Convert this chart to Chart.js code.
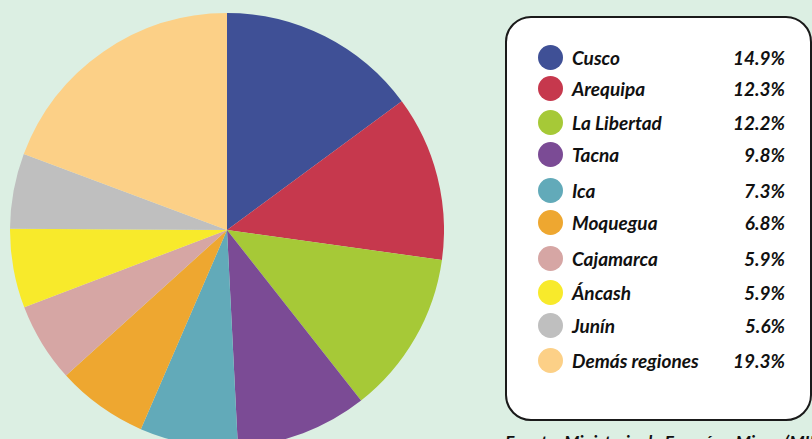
<!DOCTYPE html>
<html>
<head>
<meta charset="utf-8">
<script src="https://cdn.jsdelivr.net/npm/chart.js@4/dist/chart.umd.min.js"></script>
<style>
  html, body { margin:0; padding:0; }
  body { width:812px; height:439px; background:#dcefe3; position:relative; overflow:hidden; font-family: Lato, "Open Sans", sans-serif; }
  #pieWrap { position:absolute; left:10px; top:13px; width:434px; height:434px; }
  #legendBox { position:absolute; left:505px; top:16px; width:307px; height:405px; box-sizing:border-box;
    border:2.5px solid #1a1a1a; border-radius:26px; background:#ffffff; }
  .row { position:absolute; left:0; width:100%; height:25px; }
  .dot { position:absolute; left:31px; top:0; width:25px; height:25px; border-radius:50%; }
  .lab { position:absolute; left:65px; top:0; line-height:25px; font-size:19px; font-weight:700; font-style:italic; color:#111; white-space:nowrap; }
  .val { position:absolute; right:25px; top:0; line-height:25px; font-size:19px; font-weight:700; font-style:italic; color:#111; white-space:nowrap; text-align:right; }
  #source { position:absolute; left:505px; top:433px; line-height:18px; font-size:17.5px; font-weight:700; font-style:italic; color:#111; white-space:nowrap; }
</style>
</head>
<body>
<div id="pieWrap"><canvas id="c"></canvas></div>
<div id="legendBox"></div>
<div id="source">Fuente: Ministerio de Energía y Minas (MINEM)</div>
<script>
const regions = ["Cusco","Arequipa","La Libertad","Tacna","Ica","Moquegua","Cajamarca","Áncash","Junín","Demás regiones"];
const shares = [14.9, 12.3, 12.2, 9.8, 7.3, 6.8, 5.9, 5.9, 5.6, 19.3];
const colors = ["#3f5096","#c6384d","#a6c937","#7b4b95","#62aab9","#eea730","#d6a6a4","#f8ea2b","#bfbfbf","#fcd087"];
const rowCenters = [58, 89, 123, 155, 191, 223, 259, 293, 326, 361];

const box = document.getElementById('legendBox');
regions.forEach((r, i) => {
  const row = document.createElement('div');
  row.className = 'row';
  row.style.top = (rowCenters[i] - 31) + 'px';
  row.innerHTML = '<div class="dot" style="background:' + colors[i] + '"></div>' +
    '<div class="lab">' + r + '</div>' +
    '<div class="val">' + shares[i].toFixed(1) + '%</div>';
  box.appendChild(row);
});

new Chart(document.getElementById('c'), {
  type: 'pie',
  data: {
    labels: regions,
    datasets: [{ data: shares, backgroundColor: colors, borderWidth: 0 }]
  },
  options: {
    responsive: true,
    maintainAspectRatio: false,
    animation: false,
    layout: { padding: 0 },
    plugins: { legend: { display: false }, tooltip: { enabled: false } }
  }
});
</script>
</body>
</html>
